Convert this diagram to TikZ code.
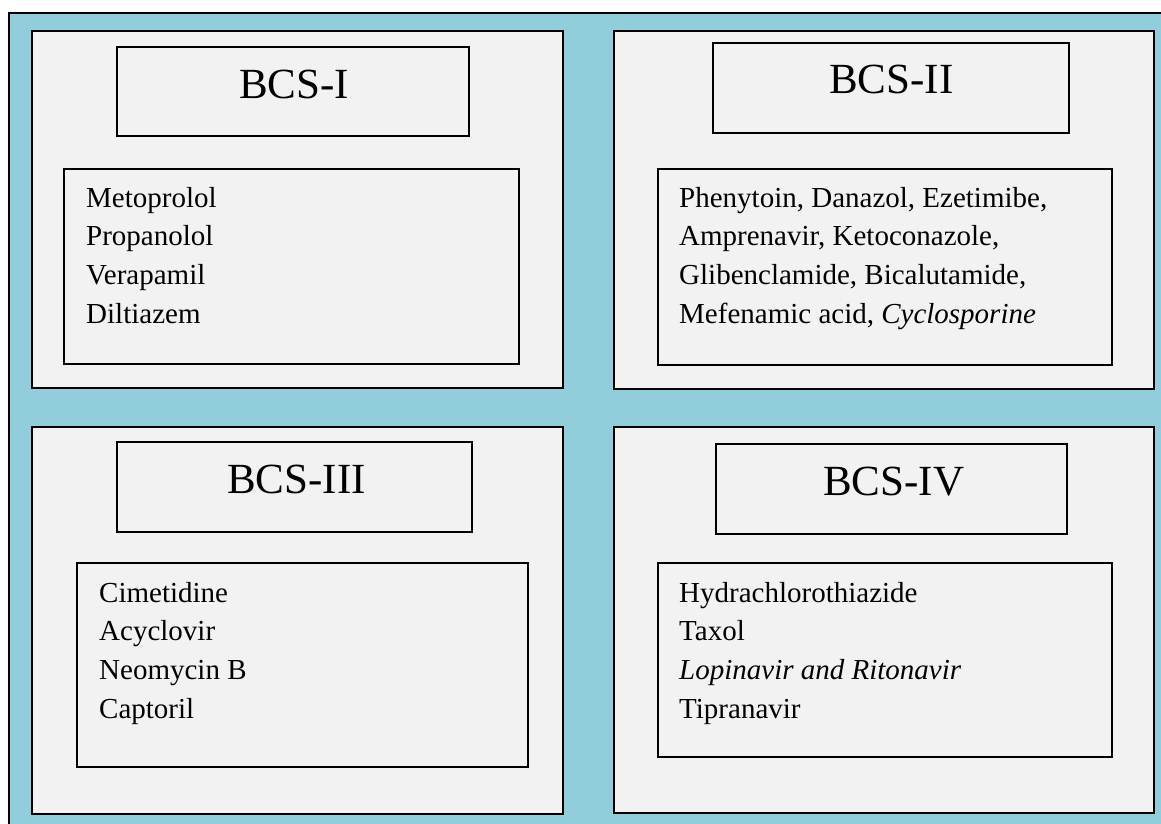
\documentclass[tikz,border=0pt]{standalone}
\usepackage{fontspec}
\setmainfont{Liberation Serif}
\definecolor{bgblue}{HTML}{92CDDC}
\definecolor{panelgray}{HTML}{F2F2F2}
\newcommand\druglines[1]{\vtop{\baselineskip=38.7pt\lineskiplimit=0pt #1}}
\tikzset{
  panel/.style={draw=black, line width=2pt, fill=panelgray},
  titlebox/.style={draw=black, line width=1.6pt},
  listbox/.style={draw=black, line width=1.4pt},
  titletext/.style={anchor=base west, inner sep=0pt, font=\fontsize{43}{50}\selectfont},
  listtext/.style={anchor=base west, inner sep=0pt, font=\fontsize{29}{38.7}\selectfont}
}
\begin{document}
\begin{tikzpicture}[x=1pt,y=-1pt]
\useasboundingbox (0,0) rectangle (1161,823);
\fill[white] (0,0) rectangle (1161,823);
\draw[fill=bgblue, line width=1.5pt] (9,13) rectangle (1180,840);
% panels
\draw[panel] (32,31) rectangle (563,388);
\draw[panel] (614,31) rectangle (1154,389);
\draw[panel] (32,427) rectangle (563,814);
\draw[panel] (614,427) rectangle (1154,813);
% title boxes
\draw[titlebox] (117,47) rectangle (469,136);
\draw[titlebox] (713,43) rectangle (1069,133);
\draw[titlebox] (117,442) rectangle (472,532);
\draw[titlebox] (716,444) rectangle (1067,534);
\node[titletext] (t1) at (239,98) {BCS-I};
\node[titletext] (t2) at (829,93) {BCS-II};
\node[titletext] (t3) at (227,493) {BCS-III};
\node[titletext] (t4) at (823,495) {BCS-IV};
% list boxes
\draw[listbox] (64,169) rectangle (519,364);
\draw[listbox] (658,169) rectangle (1112,365);
\draw[listbox] (77,563) rectangle (528,767);
\draw[listbox] (658,563) rectangle (1112,757);
\node[listtext] (l1) at (86,207) {\druglines{\hbox{Metoprolol}\hbox{Propanolol}\hbox{Verapamil}\hbox{Diltiazem}}};
\node[listtext] (l2) at (679,207) {\druglines{\hbox{Phenytoin, Danazol, Ezetimibe,}\hbox{Amprenavir, Ketoconazole,}\hbox{Glibenclamide, Bicalutamide,}\hbox{Mefenamic acid, \textit{Cyclosporine}}}};
\node[listtext] (l3) at (99,602) {\druglines{\hbox{Cimetidine}\hbox{Acyclovir}\hbox{Neomycin B}\hbox{Captoril}}};
\node[listtext] (l4) at (679,602) {\druglines{\hbox{Hydrachlorothiazide}\hbox{Taxol}\hbox{\textit{Lopinavir and Ritonavir}}\hbox{Tipranavir}}};
\end{tikzpicture}
\end{document}
